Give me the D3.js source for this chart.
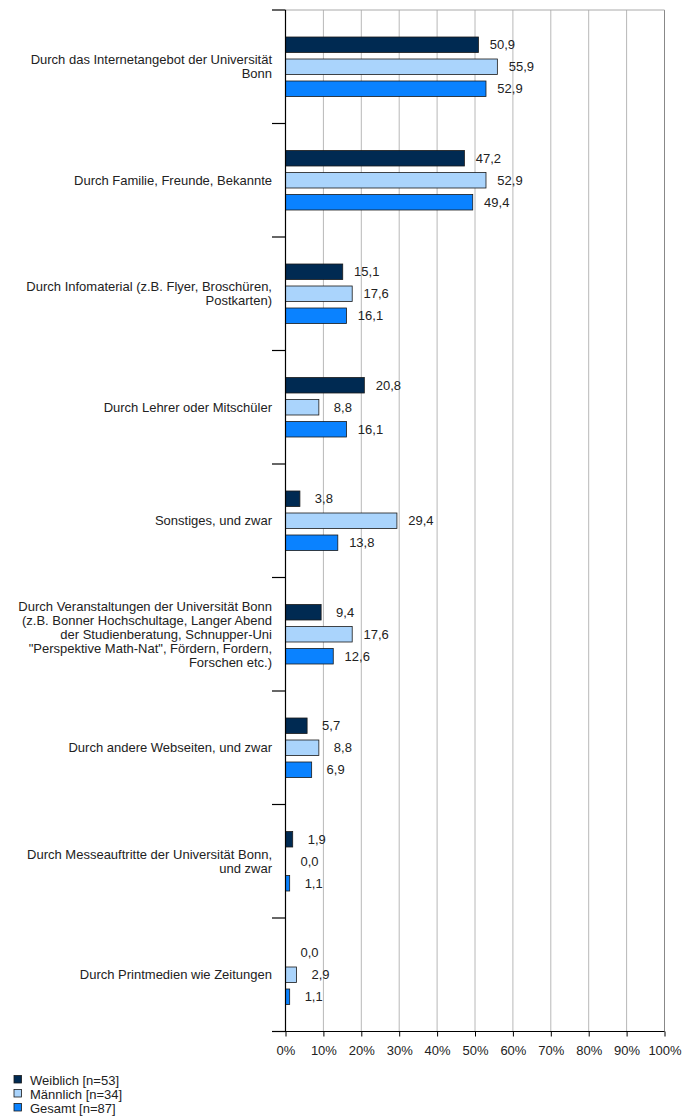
<!DOCTYPE html>
<html><head><meta charset="utf-8">
<script src="https://cdn.jsdelivr.net/npm/d3@7"></script>
<style>body{margin:0;background:#fff}svg{display:block;font-family:"Liberation Sans",Arial,sans-serif}</style>
</head><body>
<script>
const categories = [
  ["Durch das Internetangebot der Universität", "Bonn"],
  ["Durch Familie, Freunde, Bekannte"],
  ["Durch Infomaterial (z.B. Flyer, Broschüren,", "Postkarten)"],
  ["Durch Lehrer oder Mitschüler"],
  ["Sonstiges, und zwar"],
  ["Durch Veranstaltungen der Universität Bonn", "(z.B. Bonner Hochschultage, Langer Abend", "der Studienberatung, Schnupper-Uni", "\"Perspektive Math-Nat\", Fördern, Fordern,", "Forschen etc.)"],
  ["Durch andere Webseiten, und zwar"],
  ["Durch Messeauftritte der Universität Bonn,", "und zwar"],
  ["Durch Printmedien wie Zeitungen"]
];
const seriesNames = ["Weiblich [n=53]", "Männlich [n=34]", "Gesamt [n=87]"];
const weiblich = [50.9, 47.2, 15.1, 20.8, 3.8, 9.4, 5.7, 1.9, 0.0];
const maennlich = [55.9, 52.9, 17.6, 8.8, 29.4, 17.6, 8.8, 0.0, 2.9];
const gesamt = [52.9, 49.4, 16.1, 16.1, 13.8, 12.6, 6.9, 1.1, 1.1];
const xTicks = [0,10,20,30,40,50,60,70,80,90,100];
const colors = ["#002a52", "#aad4fc", "#0a82ff"];

(function(){
const W = 696, H = 1118, FS = 13;
const pL = 285.5, pR = 664.5, pT = 10, pB = 1031.5;
const svg = d3.select("body").append("svg").attr("width", W).attr("height", H);
const x = d3.scaleLinear().domain([0,100]).range([pL, pR]);
const y = d3.scaleBand().domain(d3.range(categories.length)).range([pT, pB]);
const series = [weiblich, maennlich, gesamt];

// grid
svg.append("g").selectAll("line").data(xTicks.filter(d => d > 0)).join("line")
  .attr("x1", d => x(d)).attr("x2", d => x(d)).attr("y1", pT).attr("y2", pB)
  .attr("stroke", d => d === 100 ? "#888" : "#b8b8b8").attr("stroke-width", 1);
svg.append("line").attr("x1", pL).attr("x2", pR).attr("y1", pT).attr("y2", pT)
  .attr("stroke", "#aaa");

// bars
const barH = 15.5, step = 22;
series.forEach((vals, si) => {
  const g = svg.append("g");
  const yc = i => y(i) + y.bandwidth()/2 + (si - 1) * step;
  g.selectAll("rect").data(vals.map((v,i)=>({v,i})).filter(d => d.v > 0)).join("rect")
    .attr("x", x(0)).attr("y", d => yc(d.i) - barH/2)
    .attr("width", d => x(d.v) - x(0)).attr("height", barH)
    .attr("fill", colors[si]).attr("stroke", "#1a1a1a").attr("stroke-width", 0.8);
  g.selectAll("text").data(vals.map((v,i)=>({v,i}))).join("text")
    .attr("x", d => x(d.v) + 24).attr("y", d => yc(d.i)).attr("dy", "0.35em")
    .attr("text-anchor", "middle").attr("font-size", FS).attr("fill", "#222")
    .text(d => d.v.toFixed(1).replace(".", ","));
});

// left axis
svg.append("line").attr("x1", pL).attr("x2", pL).attr("y1", pT).attr("y2", pB)
  .attr("stroke", "#000").attr("stroke-width", 1.2);
svg.append("g").selectAll("line").data(d3.range(categories.length + 1)).join("line")
  .attr("x1", 272).attr("x2", pL).attr("y1", i => pT + i * y.step()).attr("y2", i => pT + i * y.step())
  .attr("stroke", "#000").attr("stroke-width", 1.2);

// bottom axis
const xa = svg.append("g").attr("transform", `translate(0,${pB})`)
  .call(d3.axisBottom(x).tickValues(xTicks).tickSize(5).tickFormat(d => d + "%"));
xa.select(".domain").remove();
xa.selectAll(".tick line").attr("stroke", "#000");
xa.selectAll(".tick text").attr("font-size", FS).attr("fill", "#222").attr("dy", "1.2em")
  .style("font-family", "Liberation Sans, Arial, sans-serif");
svg.append("line").attr("x1", 272).attr("x2", pR).attr("y1", pB).attr("y2", pB)
  .attr("stroke", "#000").attr("stroke-width", 1.2);

// category labels
const lh = 14;
categories.forEach((lines, i) => {
  const cy = y(i) + y.bandwidth()/2;
  const t = svg.append("text").attr("text-anchor", "end").attr("font-size", FS).attr("fill", "#222");
  lines.forEach((ln, k) => {
    t.append("tspan").attr("x", 272).attr("y", cy + (k - (lines.length - 1)/2) * lh).attr("dy", "0.35em").text(ln);
  });
});

// legend
const lg = svg.append("g");
seriesNames.forEach((n, i) => {
  const ly = 1080 + i * 14;
  lg.append("rect").attr("x", 14).attr("y", ly - 4.5).attr("width", 7.5).attr("height", 7.5)
    .attr("fill", colors[i]).attr("stroke", "#1a1a1a").attr("stroke-width", 0.8);
  lg.append("text").attr("x", 30).attr("y", ly).attr("dy", "0.35em").attr("font-size", FS)
    .attr("fill", "#222").text(n);
});
})();
</script>
</body></html>
